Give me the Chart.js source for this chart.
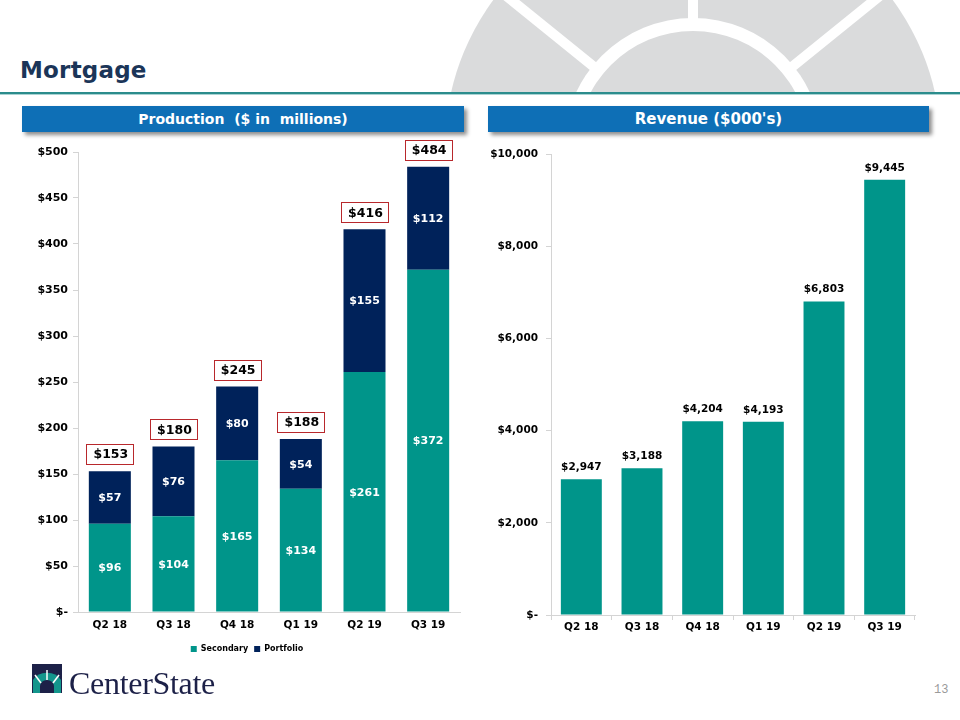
<!DOCTYPE html>
<html>
<head>
<meta charset="utf-8">
<script src="https://cdn.jsdelivr.net/npm/chart.js@4.4.1/dist/chart.umd.min.js"></script>
<style>
  html, body { margin:0; padding:0; background:#fff; }
  #page { position:relative; width:960px; height:720px; overflow:hidden; background:#fff; font-family:"DejaVu Sans", Verdana, sans-serif; }
  #wheel { position:absolute; left:0; top:0; }
  #title { position:absolute; left:20px; top:58px; font-size:23px; line-height:24px; font-weight:bold; color:#1b3558; letter-spacing:0.2px; }
  #rule1 { position:absolute; left:0; top:92px; width:960px; height:2px; background:#2b8c8c; }
  #rule2 { position:absolute; left:0; top:94px; width:960px; height:1px; background:#a9d3d3; }
  .hdr { position:absolute; top:106px; height:26px; background:#0e6fb6; color:#fff; font-weight:bold; display:flex; align-items:center; justify-content:center; box-shadow:3px 3px 4px rgba(0,0,0,0.45); }
  #hdrL { left:22px; width:442px; font-size:14px; }
  #hdrR { left:488px; width:441px; font-size:15px; }
  #cL { position:absolute; left:20px; top:140px; }
  #cR { position:absolute; left:480px; top:140px; }
  #logo { position:absolute; left:0; top:650px; }
  #pnum { position:absolute; left:934px; top:683px; font-family:"Liberation Mono", monospace; font-size:12px; color:#9a9a9a; }
</style>
</head>
<body>
<div id="page">
  <svg id="wheel" width="960" height="92" viewBox="0 0 960 92">
    <defs><clipPath id="cp"><rect x="0" y="0" width="960" height="92"/></clipPath></defs>
    <g clip-path="url(#cp)">
      <circle cx="693" cy="147" r="248" fill="#dadbdc"/>
      <line x1="693" y1="147" x2="693" y2="-110" stroke="#fff" stroke-width="10"/>
      <line x1="693" y1="147" x2="473" y2="-31" stroke="#fff" stroke-width="10"/>
      <line x1="693" y1="147" x2="913" y2="-31" stroke="#fff" stroke-width="10"/>
      <circle cx="693" cy="147" r="129" fill="#fff"/>
      <circle cx="693" cy="147" r="116" fill="#dadbdc"/>
    </g>
  </svg>
  <div id="title">Mortgage</div>
  <div id="rule1"></div>
  <div id="rule2"></div>
  <div class="hdr" id="hdrL">Production&nbsp; ($ in&nbsp; millions)</div>
  <div class="hdr" id="hdrR">Revenue ($000's)</div>
  <canvas id="cL" width="460" height="523"></canvas>
  <canvas id="cR" width="480" height="500"></canvas>
  <svg id="logo" width="240" height="60" viewBox="0 0 240 60">
    <rect x="32" y="14" width="30" height="29" fill="#1d2148"/>
    <path d="M33 43 L33 30 A16 14 0 0 1 61 30 L61 43 Z" fill="#13968c"/>
    <path d="M40 43 L40 36 A7 6 0 0 1 54 36 L54 43 Z" fill="#1d2148"/>
    <line x1="47" y1="30" x2="47" y2="20" stroke="#fff" stroke-width="1.5"/>
    <line x1="41" y1="33" x2="35" y2="25" stroke="#fff" stroke-width="1.5"/>
    <line x1="53" y1="33" x2="59" y2="25" stroke="#fff" stroke-width="1.5"/>
    <text x="69" y="44" font-family="Liberation Serif, serif" font-size="32" fill="#1d2148" letter-spacing="-0.3">CenterState</text>
  </svg>
  <div id="pnum">13</div>
</div>
<script>
// ---- data ----
const categories = ['Q2 18', 'Q3 18', 'Q4 18', 'Q1 19', 'Q2 19', 'Q3 19'];
const secondary = [96, 104, 165, 134, 261, 372];
const portfolio = [57, 76, 80, 54, 155, 112];
const productionTotals = [153, 180, 245, 188, 416, 484];
const revenue = [2947, 3188, 4204, 4193, 6803, 9445];
const seriesNames = ['Secondary', 'Portfolio'];

const TEAL = '#00958a';
const NAVY = '#00225a';
const AXIS = '#d4d4d4';
const FONT = '"DejaVu Sans", Verdana, sans-serif';

const prodLabels = {
  id: 'prodLabels',
  afterDatasetsDraw(chart) {
    const ctx = chart.ctx;
    ctx.save();
    ctx.textAlign = 'center';
    ctx.textBaseline = 'middle';
    ctx.font = 'bold 11px ' + FONT;
    ctx.fillStyle = '#ffffff';
    chart.data.datasets.forEach((ds, di) => {
      const meta = chart.getDatasetMeta(di);
      meta.data.forEach((el, i) => {
        ctx.fillText('$' + ds.data[i], el.x, (el.y + el.base) / 2 + 1);
      });
    });
    const meta0 = chart.getDatasetMeta(0);
    const ys = chart.scales.y;
    ctx.font = 'bold 12.5px ' + FONT;
    productionTotals.forEach((t, i) => {
      const x = meta0.data[i].x;
      const top = ys.getPixelForValue(t);
      const txt = '$' + t;
      const w = ctx.measureText(txt).width + 12;
      const h = 20;
      const cy = top - 17;
      ctx.fillStyle = '#ffffff';
      ctx.fillRect(Math.round(x - w / 2) + 0.5, Math.round(cy - h / 2) + 0.5, Math.round(w), h);
      ctx.strokeStyle = '#b8282c';
      ctx.lineWidth = 1;
      ctx.strokeRect(Math.round(x - w / 2) + 0.5, Math.round(cy - h / 2) + 0.5, Math.round(w), h);
      ctx.fillStyle = '#000000';
      ctx.fillText(txt, x + 1, cy + 1);
    });
    ctx.restore();
  }
};

new Chart(document.getElementById('cL'), {
  type: 'bar',
  data: {
    labels: categories,
    datasets: [
      { label: seriesNames[0], data: secondary, backgroundColor: TEAL, barPercentage: 0.66, categoryPercentage: 1 },
      { label: seriesNames[1], data: portfolio, backgroundColor: NAVY, barPercentage: 0.66, categoryPercentage: 1 }
    ]
  },
  options: {
    responsive: false,
    animation: false,
    layout: { padding: { left: 14, right: 20, top: 12, bottom: 0 } },
    plugins: {
      tooltip: { enabled: false },
      legend: {
        position: 'bottom',
        labels: { boxWidth: 6, boxHeight: 6, padding: 6, color: '#000', font: { family: FONT, size: 8, weight: 'bold' } }
      }
    },
    scales: {
      x: {
        stacked: true,
        grid: { display: true, drawOnChartArea: false, drawTicks: false },
        border: { color: AXIS },
        ticks: { color: '#000', padding: 7, font: { family: FONT, size: 10.5, weight: 'bold' } },
        afterFit(s) { s.height = 27; }
      },
      y: {
        stacked: true,
        min: 0, max: 500,
        grid: { drawOnChartArea: false, tickLength: 5, color: AXIS },
        border: { color: AXIS },
        ticks: { stepSize: 50, color: '#000', padding: 5, font: { family: FONT, size: 11, weight: 'bold' },
                 callback: v => v === 0 ? '$-' : '$' + v },
        afterFit(s) { s.width = 44; }
      }
    }
  },
  plugins: [prodLabels]
});

const revLabels = {
  id: 'revLabels',
  afterDatasetsDraw(chart) {
    const ctx = chart.ctx;
    ctx.save();
    ctx.textAlign = 'center';
    ctx.textBaseline = 'middle';
    ctx.font = 'bold 10.5px ' + FONT;
    ctx.fillStyle = '#000';
    const meta = chart.getDatasetMeta(0);
    meta.data.forEach((el, i) => {
      ctx.fillText('$' + revenue[i].toLocaleString('en-US'), el.x, el.y - 12);
    });
    ctx.restore();
  }
};

new Chart(document.getElementById('cR'), {
  type: 'bar',
  data: {
    labels: categories,
    datasets: [
      { label: 'Revenue', data: revenue, backgroundColor: TEAL, barPercentage: 0.675, categoryPercentage: 1 }
    ]
  },
  options: {
    responsive: false,
    animation: false,
    layout: { padding: { left: 0, right: 45, top: 12, bottom: 0 } },
    plugins: { tooltip: { enabled: false }, legend: { display: false } },
    scales: {
      x: {
        grid: { display: true, drawOnChartArea: false, tickLength: 5, color: AXIS },
        border: { color: AXIS },
        ticks: { color: '#000', padding: 1, font: { family: FONT, size: 10.5, weight: 'bold' } },
        afterFit(s) { s.height = 25; }
      },
      y: {
        min: 0, max: 10000,
        grid: { drawOnChartArea: false, tickLength: 5, color: AXIS },
        border: { color: AXIS },
        ticks: { stepSize: 2000, color: '#000', padding: 8, font: { family: FONT, size: 10.5, weight: 'bold' },
                 callback: v => v === 0 ? '$-' : '$' + v.toLocaleString('en-US') },
        afterFit(s) { s.width = 71; }
      }
    }
  },
  plugins: [revLabels]
});
</script>
</body>
</html>
